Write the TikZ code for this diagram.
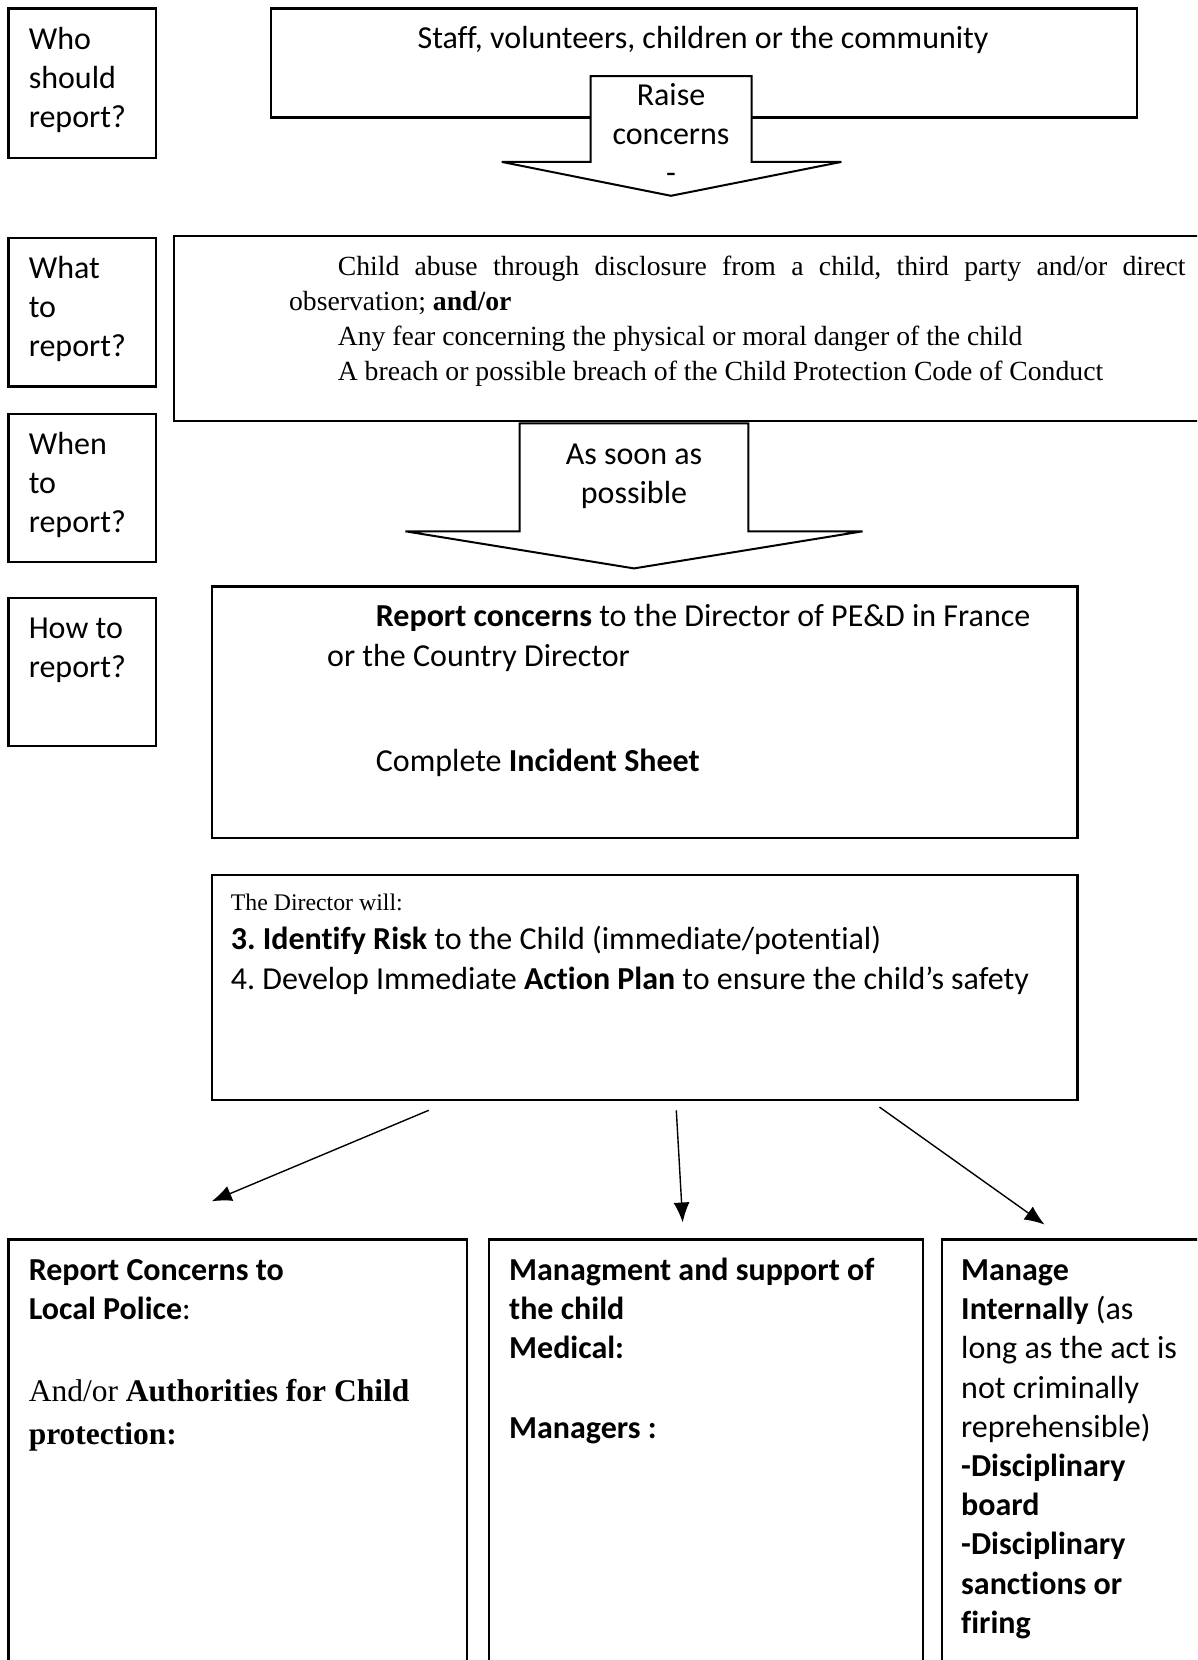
\documentclass[tikz,border=0pt]{standalone}
\usepackage{fontspec}
\setmainfont{Carlito}[Ligatures=CommonOff]
\newfontfamily\seriffam{Liberation Serif}
\usetikzlibrary{arrows.meta}
\frenchspacing
\newcommand{\TLl}[1]{\begin{tabular}[t]{@{}l@{}}#1\end{tabular}}
\newcommand{\TLc}[1]{\begin{tabular}[t]{@{}c@{}}#1\end{tabular}}
\begin{document}
\begin{tikzpicture}[x=1pt,y=-1pt,
  box/.style={draw, line width=2.2pt, inner sep=0pt, anchor=north west},
  txt/.style={inner sep=0pt, anchor=base west, font=\fontsize{32}{39}\selectfont},
  ctxt/.style={inner sep=0pt, anchor=base, font=\fontsize{32}{39}\selectfont},
  stxt/.style={inner sep=0pt, anchor=base west, font=\seriffam\fontsize{27.7}{35}\selectfont},
  blockarrow/.style={draw, fill=white, line width=2pt, line join=miter},
  conn/.style={line width=1.4pt, -{Latex[length=20pt,width=16pt]}}]
\useasboundingbox (0,0) rectangle (1197,1660);
\clip (0,0) rectangle (1197,1660);

% left column
\node[box, minimum width=147.1pt, minimum height=149.2pt] (who) at (7.4,7.4) {};
\node[txt] (whot) at (28.6,49) {\TLl{Who\\should\\report?}};
\node[box, minimum width=147.1pt, minimum height=148.2pt] (what) at (7.4,237.1) {};
\node[txt] (whatt) at (28.6,278.3) {\TLl{What\\to\\report?}};
\node[box, minimum width=147.1pt, minimum height=148.2pt] (when) at (7.4,412.8) {};
\node[txt] (whent) at (28.6,454) {\TLl{When\\to\\report?}};
\node[box, minimum width=147.1pt, minimum height=148.1pt] (how) at (7.4,597) {};
\node[txt] (howt) at (28.6,638) {\TLl{How to\\report?}};

% staff box and raise arrow
\node[box, minimum width=865.7pt, minimum height=109pt] (staff) at (270,7.4) {};
\node[ctxt] (stafft) at (703,48.6) {Staff, volunteers, children or the community};
\path[blockarrow] (590.6,76.2) -- (751.5,76.2) -- (751.5,161.9) -- (841.4,161.9)
  -- (671,195.8) -- (501.7,161.9) -- (590.6,161.9) -- cycle;
\node[ctxt] (raiset) at (671,105.8) {\TLc{Raise\\concerns\\-}};

% what box
\node[box, minimum width=1037.5pt, minimum height=185.2pt] (what2) at (172.5,235) {};
\node[stxt] (whatb) at (288.9,275.7) {\TLl{\hspace*{48.7pt}\makebox[847.8pt][s]{Child abuse through disclosure from a child, third party and/or direct}\\
observation; \textbf{and/or}\\
\hspace*{48.7pt}Any fear concerning the physical or moral danger of the child\\
\hspace*{48.7pt}A breach or possible breach of the Child Protection Code of Conduct}};

% asap arrow
\path[blockarrow] (519.7,423.4) -- (748.3,423.4) -- (748.3,531.3) -- (862.6,531.3)
  -- (634,568.4) -- (405.4,531.3) -- (519.7,531.3) -- cycle;
\node[ctxt] (asapt) at (634,464.5) {\TLc{As soon as\\possible}};

% report box
\node[box, minimum width=865.8pt, minimum height=251.9pt] (report) at (210.6,585.3) {};
\node[txt] (rep1) at (375.7,626.5) {\textbf{Report concerns} to the Director of PE\&D in France};
\node[txt] (rep2) at (327,666.7) {or the Country Director};
\node[txt] (rep3) at (375.7,771.5) {Complete \textbf{Incident Sheet}};

% director box
\node[box, minimum width=865.8pt, minimum height=224.4pt] (director) at (210.6,874.2) {};
\node[inner sep=0pt, anchor=base west, font=\seriffam\fontsize{23.8}{30}\selectfont] (dir0) at (230.7,910.8) {The Director will:};
\node[txt] (dir1) at (230.7,949.3) {\textbf{3. Identify Risk} to the Child (immediate/potential)};
\node[txt] (dir2) at (230.7,989.5) {4. Develop Immediate \textbf{Action Plan} to ensure the child’s safety};

% connectors
\coordinate (s1) at (428.7,1110.3); \coordinate (e1) at (211.7,1201.3);
\coordinate (s2) at (676.3,1110.3); \coordinate (e2) at (682.7,1222.5);
\coordinate (s3) at (879.5,1107.1); \coordinate (e3) at (1044.6,1224.6);
\draw[conn] (s1) -- (e1);
\draw[conn] (s2) -- (e2);
\draw[conn] (s3) -- (e3);

% bottom boxes
\node[box, minimum width=458.3pt, minimum height=440pt] (police) at (7.4,1238.3) {};
\node[txt] (pol1) at (28.6,1280.5) {\TLl{\textbf{Report Concerns to}\\\textbf{Local Police}:}};
\node[inner sep=0pt, anchor=base west, font=\seriffam\fontsize{31.5}{42.3}\selectfont] (pol2) at (28.6,1401.7) {\TLl{And/or \textbf{Authorities for Child}\\\textbf{protection:}}};

\node[box, minimum width=434pt, minimum height=440pt] (support) at (487.9,1238.3) {};
\node[txt] (sup1) at (509,1280.5) {\TLl{\textbf{Managment and support of}\\\textbf{the child}\\\textbf{Medical:}}};
\node[txt] (sup2) at (509,1438.3) {\textbf{Managers :}};

\node[box, minimum width=279pt, minimum height=440pt] (internal) at (941,1238.3) {};
\node[inner sep=0pt, anchor=base west, font=\fontsize{32}{39.2}\selectfont] (int1) at (961,1280.5) {\TLl{\textbf{Manage}\\\textbf{Internally} (as\\long as the act is\\not criminally\\reprehensible)\\\textbf{-Disciplinary}\\\textbf{board}\\\textbf{-Disciplinary}\\\textbf{sanctions or}\\\textbf{firing}}};
\end{tikzpicture}
\end{document}
